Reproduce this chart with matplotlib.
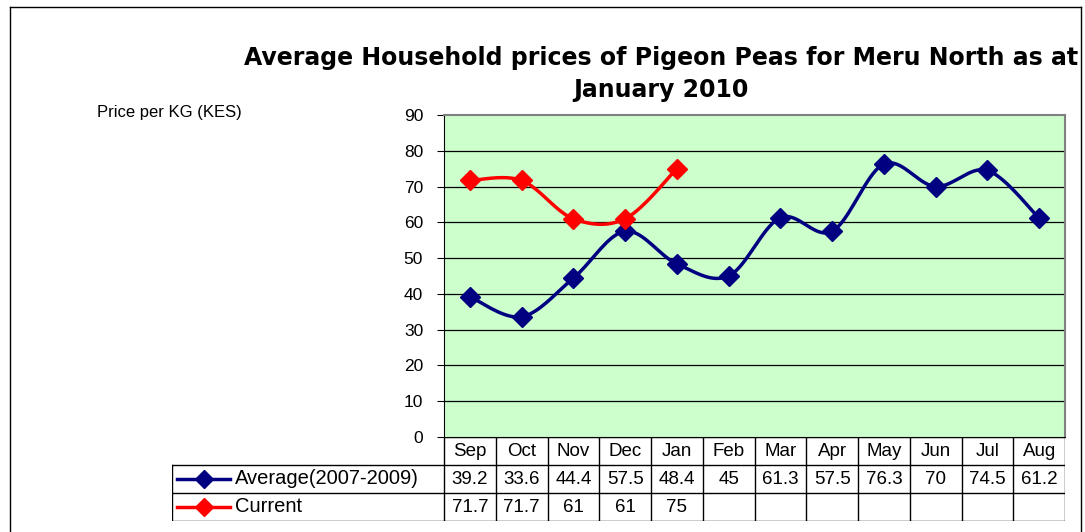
import matplotlib.pyplot as plt
from matplotlib.lines import Line2D
import numpy as np

months = ['Sep', 'Oct', 'Nov', 'Dec', 'Jan', 'Feb', 'Mar', 'Apr', 'May', 'Jun', 'Jul', 'Aug']
average = [39.2, 33.6, 44.4, 57.5, 48.4, 45, 61.3, 57.5, 76.3, 70, 74.5, 61.2]
current = [71.7, 71.7, 61, 61, 75]
series_names = ['Average(2007-2009)', 'Current']
series_colors = ['#000080', '#FF0000']

title = 'Average Household prices of Pigeon Peas for Meru North as at\nJanuary 2010'
ylabel = 'Price per KG (KES)'

plt.rcParams['font.family'] = ['Liberation Sans', 'DejaVu Sans']


def smooth(y, n=20):
    # Catmull-Rom style smoothing, similar to Excel's "smoothed line"
    y = np.asarray(y, dtype=float)
    x = np.arange(len(y), dtype=float)
    pts = np.column_stack([x, y])
    out = []
    for i in range(len(pts) - 1):
        p0 = pts[i - 1] if i > 0 else pts[i]
        p1 = pts[i]
        p2 = pts[i + 1]
        p3 = pts[i + 2] if i + 2 < len(pts) else pts[i + 1]
        c1 = p1 + (p2 - p0) / 6
        c2 = p2 - (p3 - p1) / 6
        t = np.linspace(0, 1, n)[:, None]
        seg = ((1 - t) ** 3) * p1 + 3 * ((1 - t) ** 2) * t * c1 + 3 * (1 - t) * t ** 2 * c2 + t ** 3 * p2
        out.append(seg if i == 0 else seg[1:])
    out = np.vstack(out)
    return out[:, 0], out[:, 1]


W, H = 1085, 532
fig = plt.figure(figsize=(W / 100, H / 100), dpi=100)

# outer frame
fig.add_artist(Line2D([10 / W, 10 / W], [0, 1 - 7 / H], color='black', lw=1))
fig.add_artist(Line2D([10 / W, 1081 / W], [1 - 7 / H, 1 - 7 / H], color='black', lw=1))
fig.add_artist(Line2D([1081 / W, 1081 / W], [0, 1 - 7 / H], color='black', lw=1))

px_left, px_right, px_top, px_bottom = 444, 1065, 115, 437
ax = fig.add_axes([px_left / W, 1 - px_bottom / H, (px_right - px_left) / W, (px_bottom - px_top) / H])
ax.set_facecolor('#CCFFCC')
ax.set_xlim(-0.5, len(months) - 0.5)
ax.set_ylim(0, 90)
ax.set_yticks(range(0, 91, 10))
ax.set_xticks([])
ax.tick_params(axis='y', direction='out', length=5, labelsize=12.5, pad=10)
for v in range(10, 90, 10):
    ax.axhline(v, color='black', lw=0.9, zorder=1)
ax.spines['top'].set_color('#808080')
ax.spines['right'].set_color('#808080')
ax.spines['top'].set_linewidth(1.5)
ax.spines['right'].set_linewidth(1.5)

for vals, col in zip([average, current], series_colors):
    sx, sy = smooth(vals)
    ax.plot(sx, sy, color=col, lw=2.5, zorder=3)
    ax.plot(range(len(vals)), vals, linestyle='none', marker='D', markersize=10,
            color=col, zorder=4)

fig.text(661 / W, 1 - 74 / H, title, ha='center', va='center', fontsize=17,
         fontweight='bold', family='DejaVu Sans', linespacing=1.45)
fig.text(97 / W, 1 - 113 / H, ylabel, ha='left', va='center', fontsize=12)

# data table underneath the plot
tb_left, tb_top, tb_bottom = 172, 437, 521
tax = fig.add_axes([tb_left / W, 1 - tb_bottom / H, (px_right - tb_left) / W, (tb_bottom - tb_top) / H])
col_w = (px_right - px_left) / len(months)
x0 = -0.5 - (px_left - tb_left) / col_w
tax.set_xlim(x0, len(months) - 0.5)
tax.set_ylim(3, 0)
tax.axis('off')

lw = 1.0
# horizontal lines
tax.plot([-0.5, len(months) - 0.5], [0, 0], color='black', lw=lw)
for r in [1, 2, 3]:
    tax.plot([x0, len(months) - 0.5], [r, r], color='black', lw=lw)
# vertical lines
tax.plot([x0, x0], [1, 3], color='black', lw=lw)
for i in range(len(months) + 1):
    tax.plot([i - 0.5, i - 0.5], [0, 3], color='black', lw=lw)

for i, m in enumerate(months):
    tax.text(i, 0.5, m, ha='center', va='center', fontsize=13.5)
for r, (vals, col, name) in enumerate(zip([average, current], series_colors, series_names), start=1):
    for i, v in enumerate(vals):
        tax.text(i, r + 0.5, f'{v:g}', ha='center', va='center', fontsize=13.5)
    kx0 = x0 + 5 / col_w
    kx1 = x0 + 58 / col_w
    tax.plot([kx0, kx1], [r + 0.5, r + 0.5], color=col, lw=2.5)
    tax.plot([(kx0 + kx1) / 2], [r + 0.5], marker='D', markersize=9, color=col)
    tax.text(x0 + 63 / col_w, r + 0.5, name, ha='left', va='center', fontsize=14.5)

fig.savefig('out.png', dpi=100)
